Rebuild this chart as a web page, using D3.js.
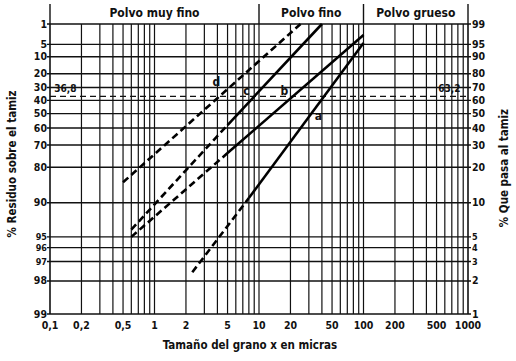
<!DOCTYPE html>
<html><head><meta charset="utf-8">
<script src="https://cdn.jsdelivr.net/npm/d3@7/dist/d3.min.js"></script>
<style>
body{margin:0;background:#fff;}
text{font-family:"DejaVu Sans Condensed","DejaVu Sans",sans-serif;font-stretch:condensed;font-weight:bold;fill:#111;}
</style></head>
<body><svg id="c" width="516" height="361"></svg>
<script>
// ---- data ----
const residueTicks = [1,5,10,20,30,40,50,60,70,80,90,95,96,97,98,99];
const leftLabels   = ["1","5","10","20","30","40","50","60","70","80","90","95","96","97","98","99"];
const rightLabels  = ["99","95","90","80","70","60","50","40","30","20","10","5","4","3","2","1"];
const sizeTicks    = [0.1,0.2,0.5,1,2,5,10,20,50,100,200,500,1000];
const sizeLabels   = ["0,1","0,2","0,5","1","2","5","10","20","50","100","200","500","1000"];
const zones        = ["Polvo muy fino","Polvo fino","Polvo grueso"];
const zoneBounds   = [0.1,10,100,1000];
const charResidue  = 36.8;
// series: grain size (µm) and residue (%); dashed part first, then solid part
const seriesNames  = ["a","b","c","d"];
const aDashed = [[2.3,97.6],[8,89]];     const aSolid = [[8,89],[100,4.6]];
const bDashed = [[0.6,95],[5,74]];       const bSolid = [[5,74],[100,2.6]];
const cDashed = [[0.6,94.2],[5,58]];     const cSolid = [[5,58],[40,1]];
const dDashed = [[0.5,85],[25,1]];       const dSolid = [];
const labelPos = {a:[37,52],b:[17.5,33],c:[7.6,33],d:[3.9,26]};

// ---- scales ----
const W=516,H=361, L=50,R=468,T=24,B=314;
const x = d3.scaleLog().domain([0.1,1000]).range([L,R]);
const rr = r => Math.log10(Math.log(100/r));
const yLin = d3.scaleLinear().domain([rr(99),rr(1)]).range([B,T]);
const y = r => yLin(rr(r));

const svg = d3.select("#c");
const g = svg.append("g");

// vertical grid
const vgrid=[];
for(let d=0.1; d<1000; d*=10){ for(let m=1;m<10;m++){ vgrid.push(+(d*m).toPrecision(3)); } }
vgrid.push(1000);
g.selectAll("line.v").data(vgrid).enter().append("line")
 .attr("x1",d=>x(d)).attr("x2",d=>x(d)).attr("y1",T).attr("y2",B)
 .attr("stroke","#111").attr("stroke-width",d=>(d===0.1||d===1000)?1.6:1.2);

// horizontal grid
g.selectAll("line.h").data(residueTicks).enter().append("line")
 .attr("x1",L-3).attr("x2",R+3).attr("y1",d=>y(d)).attr("y2",d=>y(d))
 .attr("stroke","#111").attr("stroke-width",1.4);

// characteristic line 36.8
g.append("line").attr("x1",L).attr("x2",R).attr("y1",y(charResidue)).attr("y2",y(charResidue))
 .attr("stroke","#111").attr("stroke-width",1.2).attr("stroke-dasharray","6,4");
g.append("text").attr("x",x(0.11)).attr("y",y(charResidue)-4).attr("font-size",10).text("36,8");
g.append("text").attr("x",x(520)).attr("y",y(charResidue)-4).attr("font-size",10).text("63,2");

// zone header
g.selectAll("line.z").data(zoneBounds).enter().append("line")
 .attr("x1",d=>x(d)).attr("x2",d=>x(d)).attr("y1",4).attr("y2",T)
 .attr("stroke","#111").attr("stroke-width",1.4);
g.selectAll("text.z").data(zones).enter().append("text")
 .attr("x",(d,i)=>x(Math.sqrt(zoneBounds[i]*zoneBounds[i+1])))
 .attr("y",17).attr("text-anchor","middle").attr("font-size",12).text(d=>d);

// tick labels
const fs = d => (d>=95 && d<=97) ? 9 : 10.5;
g.selectAll("text.l").data(residueTicks).enter().append("text")
 .attr("x",L-3).attr("y",d=>y(d)+3.5).attr("text-anchor","end").attr("font-size",fs)
 .text((d,i)=>leftLabels[i]);
g.selectAll("text.r").data(residueTicks).enter().append("text")
 .attr("x",R+4).attr("y",d=>y(d)+3.5).attr("text-anchor","start").attr("font-size",fs)
 .text((d,i)=>rightLabels[i]);
g.selectAll("text.x").data(sizeTicks).enter().append("text")
 .attr("x",d=>x(d)).attr("y",B+15).attr("text-anchor","middle").attr("font-size",10.5)
 .text((d,i)=>sizeLabels[i]);

// titles
g.append("text").attr("x",250).attr("y",349).attr("text-anchor","middle").attr("font-size",11.5)
 .text("Tamaño del grano x en micras");
g.append("text").attr("transform","translate(16,164) rotate(-90)").attr("text-anchor","middle").attr("font-size",11.5)
 .text("% Residuo sobre el tamiz");
g.append("text").attr("transform","translate(508,168) rotate(-90)").attr("text-anchor","middle").attr("font-size",11.5)
 .text("% Que pasa al tamiz");

// series
const line = d3.line().x(d=>x(d[0])).y(d=>y(d[1]));
const parts = [[aDashed,true],[aSolid,false],[bDashed,true],[bSolid,false],[cDashed,true],[cSolid,false],[dDashed,true],[dSolid,false]];
parts.forEach(([pts,dashed])=>{
  if(!pts.length) return;
  g.append("path").attr("d",line(pts)).attr("fill","none").attr("stroke","#000")
   .attr("stroke-width",2.6).attr("stroke-dasharray",dashed?"7,4":null);
});
seriesNames.forEach(n=>{
  const p=labelPos[n];
  g.append("text").attr("x",x(p[0])).attr("y",y(p[1])+4).attr("font-size",12).attr("text-anchor","middle")
   .attr("font-weight","normal").text(n);
});
</script></body></html>
